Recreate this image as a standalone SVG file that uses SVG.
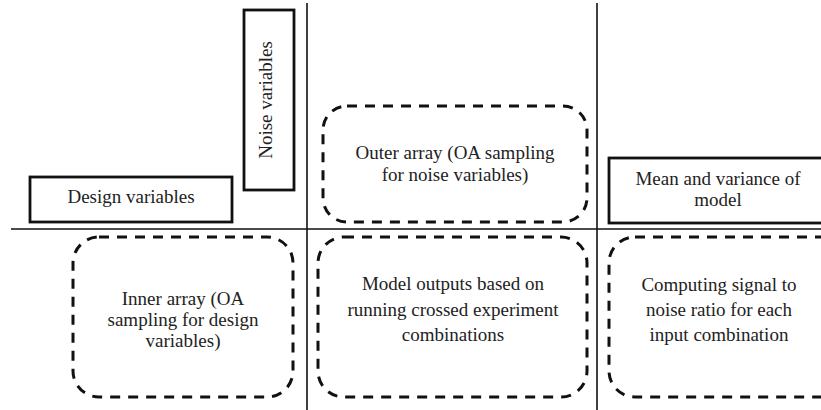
<svg xmlns="http://www.w3.org/2000/svg" width="821" height="410" viewBox="0 0 821 410">
  <style>
    .bg { fill: #ffffff; }
    .grid { stroke: #111; stroke-width: 1.6; fill: none; }
    .solid { fill: #ffffff; stroke: #111; stroke-width: 2.8; }
    .dash { fill: none; stroke: #111; stroke-width: 3; stroke-dasharray: 10 8; }
    .lbl { font-family: "Liberation Serif", "Times New Roman", serif; font-size: 19px; fill: #222; text-anchor: middle; }
  </style>
  <rect class="bg" x="0" y="0" width="821" height="410"/>

  <!-- dividing lines of the crossed-array layout -->
  <g id="connectors">
    <line class="grid" x1="11" y1="229" x2="821" y2="229"/>
    <line class="grid" x1="307" y1="3" x2="307" y2="410"/>
    <line class="grid" x1="597" y1="3" x2="597" y2="410"/>
  </g>

  <g id="design-variables">
    <rect class="solid" x="30" y="177" width="202" height="45"/>
    <text class="lbl" x="131" y="203">Design variables</text>
  </g>

  <g id="noise-variables">
    <rect class="solid" x="244" y="10" width="50" height="180"/>
    <text class="lbl" transform="translate(272 100) rotate(-90)">Noise variables</text>
  </g>

  <g id="outer-array">
    <rect class="dash" x="323" y="106" width="264" height="116" rx="24" ry="24"/>
    <text class="lbl" x="455" y="159">Outer array (OA sampling</text>
    <text class="lbl" x="455" y="181">for noise variables)</text>
  </g>

  <g id="mean-variance">
    <rect class="solid" x="609" y="158" width="230" height="65"/>
    <text class="lbl" x="718" y="185">Mean and variance of</text>
    <text class="lbl" x="718" y="206">model</text>
  </g>

  <g id="inner-array">
    <rect class="dash" x="73" y="237" width="220" height="160" rx="26" ry="26"/>
    <text class="lbl" x="183" y="305">Inner array (OA</text>
    <text class="lbl" x="183" y="326">sampling for design</text>
    <text class="lbl" x="183" y="347">variables)</text>
  </g>

  <g id="model-outputs">
    <rect class="dash" x="318" y="237" width="269" height="160" rx="26" ry="26"/>
    <text class="lbl" x="453" y="290">Model outputs based on</text>
    <text class="lbl" x="453" y="316">running crossed experiment</text>
    <text class="lbl" x="453" y="341">combinations</text>
  </g>

  <g id="signal-to-noise">
    <rect class="dash" x="609" y="237" width="240" height="160" rx="26" ry="26"/>
    <text class="lbl" x="719" y="291">Computing signal to</text>
    <text class="lbl" x="719" y="316">noise ratio for each</text>
    <text class="lbl" x="719" y="341">input combination</text>
  </g>
</svg>
